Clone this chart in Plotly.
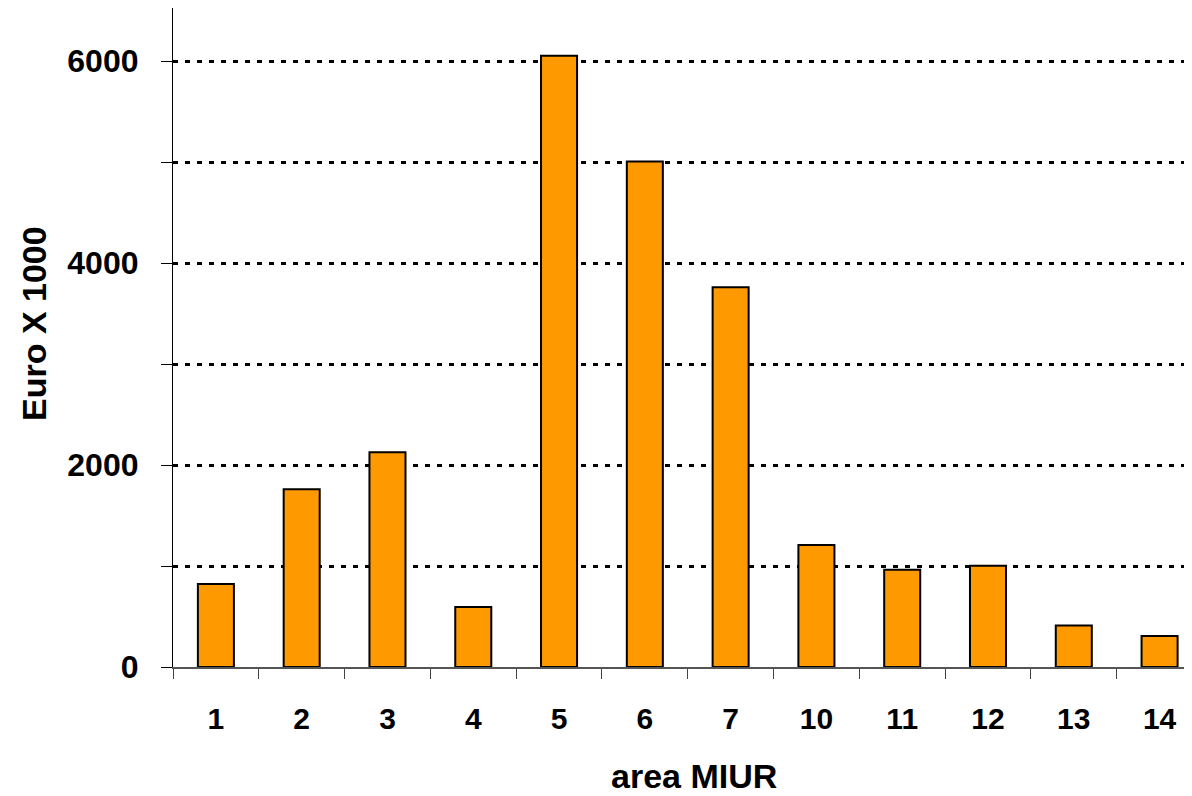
import plotly.graph_objects as go

categories = ["1", "2", "3", "4", "5", "6", "7", "10", "11", "12", "13", "14"]
values = [821, 1760, 2127, 595, 6052, 5006, 3761, 1208, 963, 1003, 411, 308]
y_tick_vals = [0, 1000, 2000, 3000, 4000, 5000, 6000]
y_tick_text = ["0", "", "2000", "", "4000", "", "6000"]

FONT = "Liberation Sans, Arial, sans-serif"

# page body has an 8px margin; compensate so the plot lands where the reference's does
OFF = 8
W, H = 1192 - OFF, 796 - OFF
PL, PT, PR, PB = 173, 8, 1192, 667   # plot box in screen pixels
L, T = PL - OFF, PT - OFF
R = (OFF + W) - PR
B = (OFF + H) - PB

fig = go.Figure()
fig.add_trace(go.Bar(
    x=categories, y=values,
    width=0.42,
    marker=dict(color="#FF9900", line=dict(color="black", width=2)),
))

fig.update_layout(
    width=W, height=H,
    margin=dict(l=L, r=R, t=T, b=B),
    plot_bgcolor="white", paper_bgcolor="white",
    showlegend=False,
    font=dict(family=FONT, size=28, color="black"),
)
fig.update_xaxes(
    type="category",
    range=[-0.5, 11.378],
    tickson="boundaries",
    ticks="outside", ticklen=10, tickwidth=1, tickcolor="#444",
    showline=True, linecolor="#555", linewidth=1.5,
    showgrid=False, zeroline=False,
    tickfont=dict(family=FONT, size=30, color="black", weight="bold"),
    ticklabelstandoff=24,
)
fig.update_yaxes(
    range=[0, 6525],
    tickmode="array", tickvals=y_tick_vals, ticktext=y_tick_text,
    ticks="outside", ticklen=11, tickwidth=1, tickcolor="black",
    showline=True, linecolor="black", linewidth=1.2,
    showgrid=True, gridcolor="black", gridwidth=2.5, griddash="5px,7px",
    zeroline=False,
    tickfont=dict(family=FONT, size=32, color="black", weight="bold"),
    ticklabelstandoff=16,
)

pw, ph = PR - PL, PB - PT
fig.add_annotation(
    text="<b>area MIUR</b>", xref="paper", yref="paper",
    x=(694 - PL) / pw, y=(PB - 776) / ph,
    showarrow=False, xanchor="center", yanchor="middle",
    font=dict(family=FONT, size=34, color="black"),
)
fig.add_annotation(
    text="<b>Euro X 1000</b>", xref="paper", yref="paper",
    x=(34 - PL) / pw, y=(PB - 324) / ph,
    showarrow=False, xanchor="center", yanchor="middle", textangle=-90,
    font=dict(family=FONT, size=34, color="black"),
)

fig.write_html("out.html")
